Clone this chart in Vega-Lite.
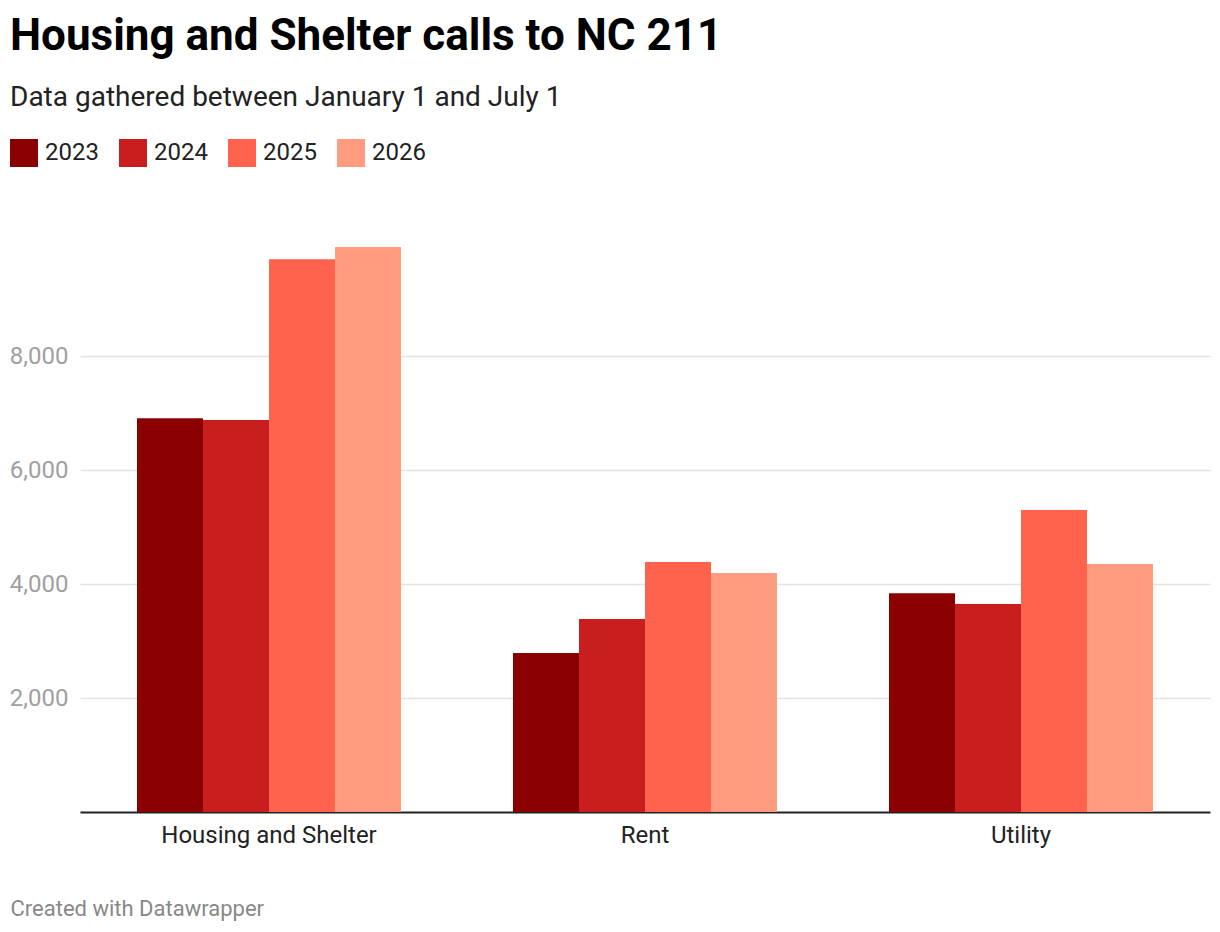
{
  "$schema": "https://vega.github.io/schema/vega-lite/v6.json",
  "width": 1130,
  "height": 570,
  "autosize": {"type": "none"},
  "padding": {"left": 80, "top": 242, "right": 10, "bottom": 120},
  "background": "white",
  "config": {
    "font": "Roboto",
    "view": {"stroke": null}
  },
  "title": {
    "text": "Housing and Shelter calls to NC 211",
    "subtitle": "Data gathered between January 1 and July 1",
    "anchor": "start",
    "frame": "group",
    "dx": -70,
    "offset": 27,
    "font": "Roboto",
    "fontSize": 44,
    "fontWeight": "bold",
    "color": "#000000",
    "subtitleFont": "Roboto",
    "subtitleFontSize": 28,
    "subtitleColor": "#222222",
    "subtitlePadding": 25
  },
  "data": {
    "values": [
      {"category": "Housing and Shelter", "year": "2023", "calls": 6907},
      {"category": "Housing and Shelter", "year": "2024", "calls": 6877},
      {"category": "Housing and Shelter", "year": "2025", "calls": 9696},
      {"category": "Housing and Shelter", "year": "2026", "calls": 9912},
      {"category": "Rent", "year": "2023", "calls": 2789},
      {"category": "Rent", "year": "2024", "calls": 3386},
      {"category": "Rent", "year": "2025", "calls": 4386},
      {"category": "Rent", "year": "2026", "calls": 4193},
      {"category": "Utility", "year": "2023", "calls": 3836},
      {"category": "Utility", "year": "2024", "calls": 3649},
      {"category": "Utility", "year": "2025", "calls": 5298},
      {"category": "Utility", "year": "2026", "calls": 4351}
    ]
  },
  "mark": {"type": "bar", "strokeWidth": 0},
  "encoding": {
    "x": {
      "field": "category",
      "type": "nominal",
      "sort": null,
      "scale": {"paddingInner": 0.2978723, "paddingOuter": 0.1515957},
      "axis": {
        "title": "Created with Datawrapper",
        "titleX": -70,
        "titleY": 103,
        "titleAlign": "left",
        "titleAnchor": "start",
        "titleBaseline": "alphabetic",
        "titleFont": "Roboto",
        "titleFontSize": 22,
        "titleFontWeight": "normal",
        "titleColor": "#888888",
        "labelAngle": 0,
        "labelFont": "Roboto",
        "labelFontSize": 24,
        "labelColor": "#222222",
        "labelPadding": 11,
        "labelLimit": 0,
        "ticks": false,
        "domain": true,
        "domainColor": "#222222",
        "domainWidth": 2,
        "grid": false
      }
    },
    "xOffset": {"field": "year", "type": "nominal", "scale": {"paddingInner": 0, "paddingOuter": 0}},
    "y": {
      "field": "calls",
      "type": "quantitative",
      "scale": {"domain": [0, 10000], "nice": false},
      "axis": {
        "title": null,
        "values": [2000, 4000, 6000, 8000],
        "format": ",d",
        "domain": false,
        "ticks": false,
        "labelFont": "Roboto",
        "labelFontSize": 24,
        "labelColor": "#a0a0a0",
        "labelPadding": 12,
        "grid": true,
        "gridColor": "#e3e3e3",
        "gridWidth": 1.5
      }
    },
    "color": {
      "field": "year",
      "type": "nominal",
      "scale": {
        "domain": ["2023", "2024", "2025", "2026"],
        "range": ["#8b0000", "#c81e1e", "#ff634e", "#ff9b7f"]
      },
      "legend": {
        "title": null,
        "orient": "none",
        "direction": "horizontal",
        "legendX": -70,
        "legendY": -103,
        "padding": 0,
        "symbolType": "square",
        "symbolSize": 784,
        "symbolStrokeWidth": 0,
        "symbolOpacity": 1,
        "labelFont": "Roboto",
        "labelFontSize": 24,
        "labelColor": "#222222",
        "labelOffset": 7,
        "columnPadding": 20
      }
    }
  }
}
